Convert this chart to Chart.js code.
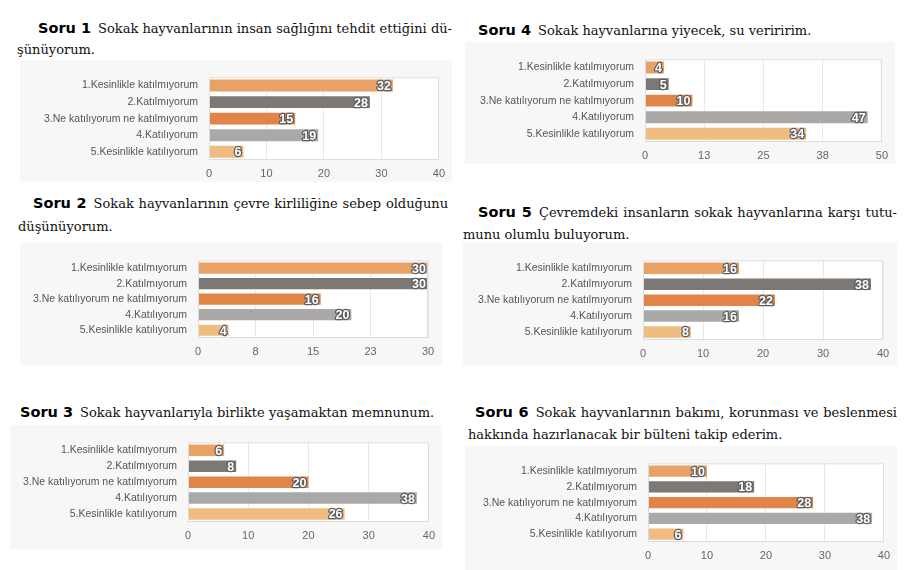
<!DOCTYPE html>
<html lang="tr">
<head>
<meta charset="utf-8">
<title>Sokak hayvanları anketi</title>
<script src="https://cdn.jsdelivr.net/npm/chart.js@4.4.1/dist/chart.umd.min.js"></script>
<style>
  html, body { margin: 0; padding: 0; background: #fff; }
  body { width: 914px; height: 570px; position: relative; overflow: hidden; }
  .box { position: absolute; background: #f7f7f7; }
  .line {
    position: absolute; white-space: nowrap;
    font-family: "DejaVu Serif", serif; font-size: 13px; line-height: 22px; color: #111;
  }
  .line.just { text-align: justify; text-align-last: justify; white-space: normal; }
  .soru {
    font-family: "DejaVu Sans", sans-serif; font-weight: bold; font-size: 14.5px;
    color: #000; margin-right: 7px;
  }
</style>
</head>
<body>
<script>
// === DATA ===
const categories = [
  "1.Kesinlikle katılmıyorum",
  "2.Katılmıyorum",
  "3.Ne katılıyorum ne katılmıyorum",
  "4.Katılıyorum",
  "5.Kesinlikle katılıyorum"
];
const barColors = ["#e9a266", "#7b7876", "#e08448", "#aba9a7", "#f0bc80"];

const values1 = [32, 28, 15, 19, 6];
const values2 = [30, 30, 16, 20, 4];
const values3 = [6, 8, 20, 38, 26];
const values4 = [4, 5, 10, 47, 34];
const values5 = [16, 38, 22, 16, 8];
const values6 = [10, 18, 28, 38, 6];

const ticks1 = ["0", "10", "20", "30", "40"];
const ticks2 = ["0", "8", "15", "23", "30"];
const ticks3 = ["0", "10", "20", "30", "40"];
const ticks4 = ["0", "13", "25", "38", "50"];
const ticks5 = ["0", "10", "20", "30", "40"];
const ticks6 = ["0", "10", "20", "30", "40"];

const axisMax = [40, 30, 40, 50, 40, 40];

const titles = [
  ["Soru 1", "Sokak hayvanlarının insan sağlığını tehdit ettiğini dü-", "şünüyorum."],
  ["Soru 2", "Sokak hayvanlarının çevre kirliliğine sebep olduğunu", "düşünüyorum."],
  ["Soru 3", "Sokak hayvanlarıyla birlikte yaşamaktan memnunum."],
  ["Soru 4", "Sokak hayvanlarına yiyecek, su veriririm."],
  ["Soru 5", "Çevremdeki insanların sokak hayvanlarına karşı tutu-", "munu olumlu buluyorum."],
  ["Soru 6", "Sokak hayvanlarının bakımı, korunması ve beslenmesi", "hakkında hazırlanacak bir bülteni takip ederim."]
];

// === LAYOUT (page pixels) ===
// box = gray backdrop, plot = chart area, t1/t2 = title lines
const panels = [
  { box: [20, 60, 432, 122], plot: [209, 71, 439, 160], t1: [38, 17, 452], t2: [17, 39] },
  { box: [20, 243, 422, 122], plot: [198, 250, 428, 338], t1: [33, 192, 448], t2: [18, 216] },
  { box: [10, 425, 432, 124], plot: [188, 431, 430, 522], t1: [20, 401] },
  { box: [465, 42, 430, 122], plot: [645, 49, 883, 142], t1: [478, 19] },
  { box: [463, 243, 434, 122], plot: [643, 248, 883, 340], t1: [478, 201, 897], t2: [463, 224] },
  { box: [465, 446, 432, 124], plot: [648, 453, 885, 542], t1: [475, 401, 897], t2: [468, 424] }
];

const allValues = [values1, values2, values3, values4, values5, values6];
const allTicks = [ticks1, ticks2, ticks3, ticks4, ticks5, ticks6];

const plotBg = {
  id: "plotBg",
  beforeDraw(chart) {
    const { ctx, chartArea: a } = chart;
    ctx.save();
    ctx.fillStyle = "#ffffff";
    ctx.fillRect(a.left, a.top, a.right - a.left, a.bottom - a.top);
    ctx.restore();
  },
  afterDraw(chart) {
    const { ctx, chartArea: a } = chart;
    ctx.save();
    ctx.strokeStyle = "#dddddd";
    ctx.lineWidth = 1;
    ctx.strokeRect(a.left + 0.5, a.top + 0.5, a.right - a.left - 1, a.bottom - a.top - 1);
    ctx.restore();
  }
};

const valueLabels = {
  id: "valueLabels",
  afterDatasetsDraw(chart) {
    const { ctx } = chart;
    const meta = chart.getDatasetMeta(0);
    const data = chart.data.datasets[0].data;
    ctx.save();
    ctx.font = "bold 12.5px 'Liberation Sans', Arial, sans-serif";
    ctx.textAlign = "right";
    ctx.textBaseline = "middle";
    ctx.lineJoin = "round";
    meta.data.forEach((bar, i) => {
      const txt = String(data[i]);
      ctx.strokeStyle = "#5e5e5e";
      ctx.lineWidth = 2.5;
      ctx.strokeText(txt, bar.x - 2, bar.y + 1);
      ctx.fillStyle = "#ffffff";
      ctx.fillText(txt, bar.x - 2, bar.y + 1);
    });
    ctx.restore();
  }
};

function addTitle(p, t) {
  const l1 = document.createElement("div");
  l1.className = "line";
  l1.style.left = p.t1[0] + "px";
  l1.style.top = p.t1[1] + "px";
  if (p.t1[2]) {
    l1.classList.add("just");
    l1.style.width = (p.t1[2] - p.t1[0]) + "px";
    l1.style.height = "22px";
    l1.style.overflow = "hidden";
  }
  l1.innerHTML = `<span class="soru">${t[0]}</span>${t[1]}`;
  document.body.appendChild(l1);
  if (t[2]) {
    const l2 = document.createElement("div");
    l2.className = "line";
    l2.style.left = p.t2[0] + "px";
    l2.style.top = p.t2[1] + "px";
    l2.textContent = t[2];
    document.body.appendChild(l2);
  }
}

panels.forEach((p, idx) => {
  addTitle(p, titles[idx]);

  const [bx, by, bw, bh] = p.box;
  const [pl, pt, pr, pb] = p.plot;
  const box = document.createElement("div");
  box.className = "box";
  box.style.left = bx + "px";
  box.style.top = by + "px";
  box.style.width = bw + "px";
  box.style.height = bh + "px";
  const canvas = document.createElement("canvas");
  canvas.width = bw;
  canvas.height = bh;
  canvas.style.width = bw + "px";
  canvas.style.height = bh + "px";
  box.appendChild(canvas);
  document.body.appendChild(box);

  const tickLabels = allTicks[idx];
  const max = axisMax[idx];

  new Chart(canvas.getContext("2d"), {
    type: "bar",
    data: {
      labels: categories,
      datasets: [{
        data: allValues[idx],
        backgroundColor: barColors,
        borderWidth: 0,
        barPercentage: 0.72,
        categoryPercentage: 1
      }]
    },
    options: {
      indexAxis: "y",
      responsive: false,
      animation: false,
      layout: { padding: { top: pt - by, right: bx + bw - pr, left: 0, bottom: 0 } },
      plugins: { legend: { display: false }, tooltip: { enabled: false } },
      scales: {
        x: {
          min: 0,
          max: max,
          ticks: {
            stepSize: max / 4,
            padding: 7,
            color: "#666",
            font: { family: "'Liberation Sans', Arial, sans-serif", size: 11 },
            callback: (v, i) => tickLabels[i]
          },
          grid: { color: "#e8e8e8", drawTicks: false },
          border: { display: false },
          afterFit: (s) => { s.height = by + bh - pb; }
        },
        y: {
          ticks: {
            autoSkip: false,
            padding: 11,
            color: "#555",
            font: { family: "'Liberation Sans', Arial, sans-serif", size: 10.5 }
          },
          grid: { display: false, drawTicks: false },
          border: { display: false },
          afterFit: (s) => { s.width = pl - bx; }
        }
      }
    },
    plugins: [plotBg, valueLabels]
  });
});
</script>
</body>
</html>
